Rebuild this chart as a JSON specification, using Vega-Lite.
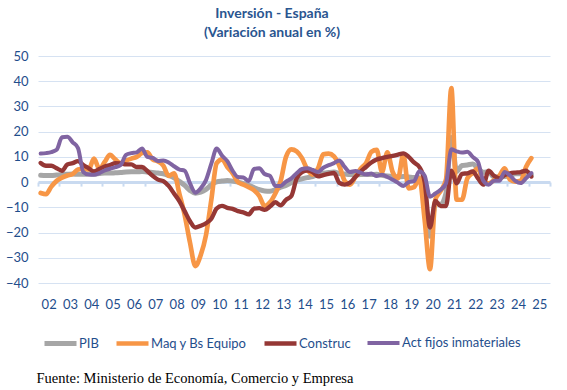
{
  "$schema": "https://vega.github.io/schema/vega-lite/v6.json",
  "width": 512,
  "height": 227,
  "autosize": "none",
  "padding": {"left": 38, "top": 56, "right": 17, "bottom": 107},
  "background": "white",
  "config": {"font": "Lato", "view": {"stroke": null}},
  "title": {
    "text": ["Inversión - España", "(Variación anual en %)"],
    "fontSize": 14,
    "fontWeight": "bold",
    "color": "#2A5590",
    "anchor": "middle",
    "dx": -22,
    "offset": 10,
    "lineHeight": 19,
    "font": "Lato"
  },
  "data": {
    "values": [
      {"t": 2002.125, "PIB": 2.7, "Maq y Bs Equipo": -4.3, "Construc": 7.6, "Act fijos  inmateriales": 11.3},
      {"t": 2002.375, "PIB": 2.6, "Maq y Bs Equipo": -4.8, "Construc": 6.5, "Act fijos  inmateriales": 11.5},
      {"t": 2002.625, "PIB": 2.6, "Maq y Bs Equipo": -1.8, "Construc": 6.5, "Act fijos  inmateriales": 11.9},
      {"t": 2002.875, "PIB": 2.8, "Maq y Bs Equipo": 0.5, "Construc": 5.5, "Act fijos  inmateriales": 12.8},
      {"t": 2003.125, "PIB": 3.0, "Maq y Bs Equipo": 1.8, "Construc": 4.5, "Act fijos  inmateriales": 17.8},
      {"t": 2003.375, "PIB": 3.1, "Maq y Bs Equipo": 2.6, "Construc": 7.0, "Act fijos  inmateriales": 18.0},
      {"t": 2003.625, "PIB": 3.2, "Maq y Bs Equipo": 3.2, "Construc": 7.5, "Act fijos  inmateriales": 15.8},
      {"t": 2003.875, "PIB": 3.1, "Maq y Bs Equipo": 5.0, "Construc": 8.3, "Act fijos  inmateriales": 13.5},
      {"t": 2004.125, "PIB": 3.1, "Maq y Bs Equipo": 5.3, "Construc": 6.8, "Act fijos  inmateriales": 4.0},
      {"t": 2004.375, "PIB": 3.2, "Maq y Bs Equipo": 5.0, "Construc": 5.5, "Act fijos  inmateriales": 3.0},
      {"t": 2004.625, "PIB": 3.2, "Maq y Bs Equipo": 9.3, "Construc": 4.2, "Act fijos  inmateriales": 2.9},
      {"t": 2004.875, "PIB": 3.4, "Maq y Bs Equipo": 5.2, "Construc": 5.2, "Act fijos  inmateriales": 3.6},
      {"t": 2005.125, "PIB": 3.6, "Maq y Bs Equipo": 8.0, "Construc": 6.2, "Act fijos  inmateriales": 4.6},
      {"t": 2005.375, "PIB": 3.6, "Maq y Bs Equipo": 10.8, "Construc": 6.8, "Act fijos  inmateriales": 5.3},
      {"t": 2005.625, "PIB": 3.7, "Maq y Bs Equipo": 9.0, "Construc": 7.5, "Act fijos  inmateriales": 5.9},
      {"t": 2005.875, "PIB": 3.8, "Maq y Bs Equipo": 7.5, "Construc": 7.4, "Act fijos  inmateriales": 6.8},
      {"t": 2006.125, "PIB": 4.0, "Maq y Bs Equipo": 8.5, "Construc": 7.0, "Act fijos  inmateriales": 10.8},
      {"t": 2006.375, "PIB": 4.1, "Maq y Bs Equipo": 9.3, "Construc": 7.0, "Act fijos  inmateriales": 11.5},
      {"t": 2006.625, "PIB": 4.1, "Maq y Bs Equipo": 10.0, "Construc": 6.0, "Act fijos  inmateriales": 11.8},
      {"t": 2006.875, "PIB": 4.2, "Maq y Bs Equipo": 11.5, "Construc": 6.0, "Act fijos  inmateriales": 13.3},
      {"t": 2007.125, "PIB": 4.0, "Maq y Bs Equipo": 11.8, "Construc": 4.4, "Act fijos  inmateriales": 10.0},
      {"t": 2007.375, "PIB": 3.8, "Maq y Bs Equipo": 9.0, "Construc": 2.5, "Act fijos  inmateriales": 9.6},
      {"t": 2007.625, "PIB": 3.6, "Maq y Bs Equipo": 8.2, "Construc": 1.0, "Act fijos  inmateriales": 8.4},
      {"t": 2007.875, "PIB": 3.3, "Maq y Bs Equipo": 6.5, "Construc": 0.4, "Act fijos  inmateriales": 8.6},
      {"t": 2008.125, "PIB": 2.6, "Maq y Bs Equipo": 2.5, "Construc": -1.5, "Act fijos  inmateriales": 7.8},
      {"t": 2008.375, "PIB": 1.7, "Maq y Bs Equipo": 3.5, "Construc": -4.5, "Act fijos  inmateriales": 6.3},
      {"t": 2008.625, "PIB": 0.3, "Maq y Bs Equipo": -4.5, "Construc": -7.5, "Act fijos  inmateriales": 5.0},
      {"t": 2008.875, "PIB": -1.3, "Maq y Bs Equipo": -13.0, "Construc": -11.5, "Act fijos  inmateriales": 4.5},
      {"t": 2009.125, "PIB": -3.3, "Maq y Bs Equipo": -24.0, "Construc": -15.5, "Act fijos  inmateriales": -0.5},
      {"t": 2009.375, "PIB": -4.4, "Maq y Bs Equipo": -33.3, "Construc": -18.0, "Act fijos  inmateriales": -4.2},
      {"t": 2009.625, "PIB": -4.0, "Maq y Bs Equipo": -29.0, "Construc": -17.3, "Act fijos  inmateriales": -2.5},
      {"t": 2009.875, "PIB": -2.9, "Maq y Bs Equipo": -21.0, "Construc": -16.3, "Act fijos  inmateriales": 0.8},
      {"t": 2010.125, "PIB": -1.1, "Maq y Bs Equipo": -7.0, "Construc": -14.5, "Act fijos  inmateriales": 7.3},
      {"t": 2010.375, "PIB": 0.1, "Maq y Bs Equipo": 7.5, "Construc": -10.5, "Act fijos  inmateriales": 13.3},
      {"t": 2010.625, "PIB": 0.4, "Maq y Bs Equipo": 9.0, "Construc": -9.4, "Act fijos  inmateriales": 10.5},
      {"t": 2010.875, "PIB": 0.6, "Maq y Bs Equipo": 6.0, "Construc": -10.2, "Act fijos  inmateriales": 8.3},
      {"t": 2011.125, "PIB": 0.4, "Maq y Bs Equipo": 3.5, "Construc": -10.6, "Act fijos  inmateriales": 4.5},
      {"t": 2011.375, "PIB": 0.0, "Maq y Bs Equipo": 0.0, "Construc": -11.5, "Act fijos  inmateriales": 2.0},
      {"t": 2011.625, "PIB": -0.6, "Maq y Bs Equipo": -1.0, "Construc": -12.0, "Act fijos  inmateriales": 1.8},
      {"t": 2011.875, "PIB": -1.3, "Maq y Bs Equipo": -2.0, "Construc": -12.8, "Act fijos  inmateriales": 0.4},
      {"t": 2012.125, "PIB": -2.2, "Maq y Bs Equipo": -3.2, "Construc": -10.5, "Act fijos  inmateriales": 5.2},
      {"t": 2012.375, "PIB": -3.0, "Maq y Bs Equipo": -5.5, "Construc": -10.3, "Act fijos  inmateriales": 5.5},
      {"t": 2012.625, "PIB": -3.5, "Maq y Bs Equipo": -9.5, "Construc": -11.0, "Act fijos  inmateriales": 3.2},
      {"t": 2012.875, "PIB": -3.6, "Maq y Bs Equipo": -8.0, "Construc": -9.7, "Act fijos  inmateriales": 2.5},
      {"t": 2013.125, "PIB": -3.0, "Maq y Bs Equipo": -4.5, "Construc": -8.0, "Act fijos  inmateriales": -1.5},
      {"t": 2013.375, "PIB": -2.0, "Maq y Bs Equipo": 0.5, "Construc": -9.2, "Act fijos  inmateriales": -1.5},
      {"t": 2013.625, "PIB": -1.3, "Maq y Bs Equipo": 10.0, "Construc": -7.0, "Act fijos  inmateriales": 0.2},
      {"t": 2013.875, "PIB": -0.2, "Maq y Bs Equipo": 13.0, "Construc": -5.5, "Act fijos  inmateriales": 1.5},
      {"t": 2014.125, "PIB": 0.8, "Maq y Bs Equipo": 12.2, "Construc": 1.5, "Act fijos  inmateriales": 3.5},
      {"t": 2014.375, "PIB": 1.3, "Maq y Bs Equipo": 9.5, "Construc": 4.0, "Act fijos  inmateriales": 5.2},
      {"t": 2014.625, "PIB": 1.8, "Maq y Bs Equipo": 5.0, "Construc": 4.6, "Act fijos  inmateriales": 5.5},
      {"t": 2014.875, "PIB": 2.2, "Maq y Bs Equipo": 3.0, "Construc": 4.0, "Act fijos  inmateriales": 4.8},
      {"t": 2015.125, "PIB": 3.0, "Maq y Bs Equipo": 5.5, "Construc": 2.3, "Act fijos  inmateriales": 4.0},
      {"t": 2015.375, "PIB": 3.5, "Maq y Bs Equipo": 11.0, "Construc": 2.8, "Act fijos  inmateriales": 5.7},
      {"t": 2015.625, "PIB": 3.8, "Maq y Bs Equipo": 11.3, "Construc": 3.3, "Act fijos  inmateriales": 6.7},
      {"t": 2015.875, "PIB": 4.0, "Maq y Bs Equipo": 10.2, "Construc": 3.6, "Act fijos  inmateriales": 7.5},
      {"t": 2016.125, "PIB": 3.4, "Maq y Bs Equipo": 6.5, "Construc": -0.3, "Act fijos  inmateriales": 8.6},
      {"t": 2016.375, "PIB": 3.2, "Maq y Bs Equipo": 0.5, "Construc": -1.0, "Act fijos  inmateriales": 6.0},
      {"t": 2016.625, "PIB": 3.0, "Maq y Bs Equipo": -1.0, "Construc": -0.2, "Act fijos  inmateriales": 4.0},
      {"t": 2016.875, "PIB": 2.9, "Maq y Bs Equipo": 2.0, "Construc": 2.0, "Act fijos  inmateriales": 4.4},
      {"t": 2017.125, "PIB": 3.0, "Maq y Bs Equipo": 5.3, "Construc": 4.2, "Act fijos  inmateriales": 3.8},
      {"t": 2017.375, "PIB": 3.1, "Maq y Bs Equipo": 7.5, "Construc": 6.0, "Act fijos  inmateriales": 3.0},
      {"t": 2017.625, "PIB": 3.0, "Maq y Bs Equipo": 12.0, "Construc": 7.8, "Act fijos  inmateriales": 3.4},
      {"t": 2017.875, "PIB": 3.1, "Maq y Bs Equipo": 12.8, "Construc": 9.0, "Act fijos  inmateriales": 2.4},
      {"t": 2018.125, "PIB": 2.7, "Maq y Bs Equipo": 4.0, "Construc": 9.5, "Act fijos  inmateriales": 2.9},
      {"t": 2018.375, "PIB": 2.4, "Maq y Bs Equipo": 11.8, "Construc": 10.0, "Act fijos  inmateriales": 2.0},
      {"t": 2018.625, "PIB": 2.2, "Maq y Bs Equipo": 4.0, "Construc": 10.4, "Act fijos  inmateriales": 0.9},
      {"t": 2018.875, "PIB": 2.1, "Maq y Bs Equipo": 1.5, "Construc": 10.9, "Act fijos  inmateriales": -0.3},
      {"t": 2019.125, "PIB": 2.2, "Maq y Bs Equipo": 10.8, "Construc": 11.4, "Act fijos  inmateriales": -1.5},
      {"t": 2019.375, "PIB": 2.0, "Maq y Bs Equipo": -2.5, "Construc": 10.0, "Act fijos  inmateriales": 0.0},
      {"t": 2019.625, "PIB": 1.8, "Maq y Bs Equipo": -2.0, "Construc": 7.8, "Act fijos  inmateriales": 0.4},
      {"t": 2019.875, "PIB": 1.7, "Maq y Bs Equipo": 1.5, "Construc": 6.0, "Act fijos  inmateriales": 4.3},
      {"t": 2020.125, "PIB": -4.3, "Maq y Bs Equipo": -15.0, "Construc": 0.0, "Act fijos  inmateriales": 2.5},
      {"t": 2020.375, "PIB": -21.5, "Maq y Bs Equipo": -34.5, "Construc": -18.0, "Act fijos  inmateriales": -5.8},
      {"t": 2020.625, "PIB": -8.6, "Maq y Bs Equipo": -7.0, "Construc": -7.5, "Act fijos  inmateriales": -4.5},
      {"t": 2020.875, "PIB": -8.8, "Maq y Bs Equipo": -3.5, "Construc": -9.5, "Act fijos  inmateriales": -3.0},
      {"t": 2021.125, "PIB": -4.3, "Maq y Bs Equipo": 1.0, "Construc": -9.5, "Act fijos  inmateriales": -0.5},
      {"t": 2021.375, "PIB": 17.7, "Maq y Bs Equipo": 37.3, "Construc": 4.5, "Act fijos  inmateriales": 13.0},
      {"t": 2021.625, "PIB": 4.2, "Maq y Bs Equipo": -7.0, "Construc": -0.5, "Act fijos  inmateriales": 12.2},
      {"t": 2021.875, "PIB": 6.6, "Maq y Bs Equipo": -7.0, "Construc": 3.3, "Act fijos  inmateriales": 11.7},
      {"t": 2022.125, "PIB": 6.8, "Maq y Bs Equipo": 1.5, "Construc": 3.5, "Act fijos  inmateriales": 12.0},
      {"t": 2022.375, "PIB": 7.2, "Maq y Bs Equipo": 3.6, "Construc": 4.2, "Act fijos  inmateriales": 10.0},
      {"t": 2022.625, "PIB": 5.4, "Maq y Bs Equipo": 5.5, "Construc": 1.5, "Act fijos  inmateriales": 8.0},
      {"t": 2022.875, "PIB": 3.9, "Maq y Bs Equipo": 0.0, "Construc": -1.0, "Act fijos  inmateriales": 0.5},
      {"t": 2023.125, "PIB": 4.1, "Maq y Bs Equipo": -0.5, "Construc": 4.5, "Act fijos  inmateriales": -1.0},
      {"t": 2023.375, "PIB": 2.0, "Maq y Bs Equipo": 0.8, "Construc": 2.5, "Act fijos  inmateriales": 0.5},
      {"t": 2023.625, "PIB": 2.0, "Maq y Bs Equipo": 2.5, "Construc": 1.5, "Act fijos  inmateriales": 0.5},
      {"t": 2023.875, "PIB": 2.2, "Maq y Bs Equipo": 5.5, "Construc": 2.8, "Act fijos  inmateriales": 4.0},
      {"t": 2024.125, "PIB": 2.6, "Maq y Bs Equipo": 1.0, "Construc": 3.5, "Act fijos  inmateriales": 2.6},
      {"t": 2024.375, "PIB": 3.3, "Maq y Bs Equipo": 0.2, "Construc": 3.8, "Act fijos  inmateriales": 0.5},
      {"t": 2024.625, "PIB": 3.3, "Maq y Bs Equipo": 0.5, "Construc": 4.0, "Act fijos  inmateriales": -0.4},
      {"t": 2024.875, "PIB": 3.4, "Maq y Bs Equipo": 6.0, "Construc": 4.5, "Act fijos  inmateriales": 1.5},
      {"t": 2025.125, "PIB": 2.8, "Maq y Bs Equipo": 9.5, "Construc": 2.2, "Act fijos  inmateriales": 3.6}
    ]
  },
  "transform": [
    {"fold": ["PIB", "Maq y Bs Equipo", "Construc", "Act fijos  inmateriales"], "as": ["serie", "valor"]}
  ],
  "mark": {"type": "line", "interpolate": "monotone", "strokeJoin": "round", "strokeCap": "round"},
  "encoding": {
    "x": {
      "field": "t",
      "type": "quantitative",
      "scale": {"domain": [2002, 2026], "nice": false, "zero": false},
      "axis": {
        "values": [2002, 2003, 2004, 2005, 2006, 2007, 2008, 2009, 2010, 2011, 2012, 2013, 2014, 2015, 2016, 2017, 2018, 2019, 2020, 2021, 2022, 2023, 2024, 2025, 2026],
        "labelExpr": "datum.value >= 2026 ? '' : substring(toString(datum.value), 2, 4)",
        "offset": -100.9,
        "grid": false,
        "domain": true,
        "domainColor": "#C9DAF0",
        "domainWidth": 3,
        "ticks": true,
        "tickColor": "#C9DAF0",
        "tickSize": 4,
        "tickWidth": 2,
        "labelOffset": 10.67,
        "labelPadding": 112,
        "labelBaseline": "top",
        "labelFontSize": 13,
        "labelColor": "#1F4E8C",
        "labelFlush": false,
        "labelOverlap": false,
        "title": "Fuente: Ministerio de Economía, Comercio y Empresa",
        "titleFont": "Liberation Serif",
        "titleFontSize": 14.5,
        "titleFontWeight": "normal",
        "titleColor": "#000000",
        "titleAnchor": "start",
        "titleAlign": "left",
        "titleBaseline": "alphabetic",
        "titleX": -2,
        "titleY": 200
      }
    },
    "y": {
      "field": "valor",
      "type": "quantitative",
      "scale": {"domain": [-40, 50], "nice": false},
      "axis": {
        "values": [-40, -30, -20, -10, 0, 10, 20, 30, 40, 50],
        "grid": true,
        "gridColor": "#D6E2F2",
        "gridWidth": 1,
        "domain": false,
        "ticks": false,
        "labelPadding": 10,
        "labelFontSize": 13,
        "labelColor": "#1F4E8C",
        "title": null
      }
    },
    "color": {
      "field": "serie",
      "type": "nominal",
      "scale": {
        "domain": ["PIB", "Maq y Bs Equipo", "Construc", "Act fijos  inmateriales"],
        "range": ["#A6A6A6", "#F79646", "#953735", "#8064A2"]
      },
      "legend": {
        "orient": "none",
        "legendX": 4,
        "legendY": 269,
        "direction": "horizontal",
        "columns": 4,
        "gridAlign": "none",
        "title": null,
        "symbolType": "stroke",
        "symbolSize": 1024,
        "symbolStrokeWidth": 5,
        "labelFont": "Lato",
        "labelFontSize": 13,
        "labelColor": "#1F4E8C",
        "labelOffset": 0,
        "columnPadding": 8,
        "labelLimit": 300
      }
    },
    "strokeWidth": {
      "field": "serie",
      "type": "nominal",
      "scale": {
        "domain": ["PIB", "Maq y Bs Equipo", "Construc", "Act fijos  inmateriales"],
        "range": [5, 4, 4, 4]
      },
      "legend": null
    }
  }
}
